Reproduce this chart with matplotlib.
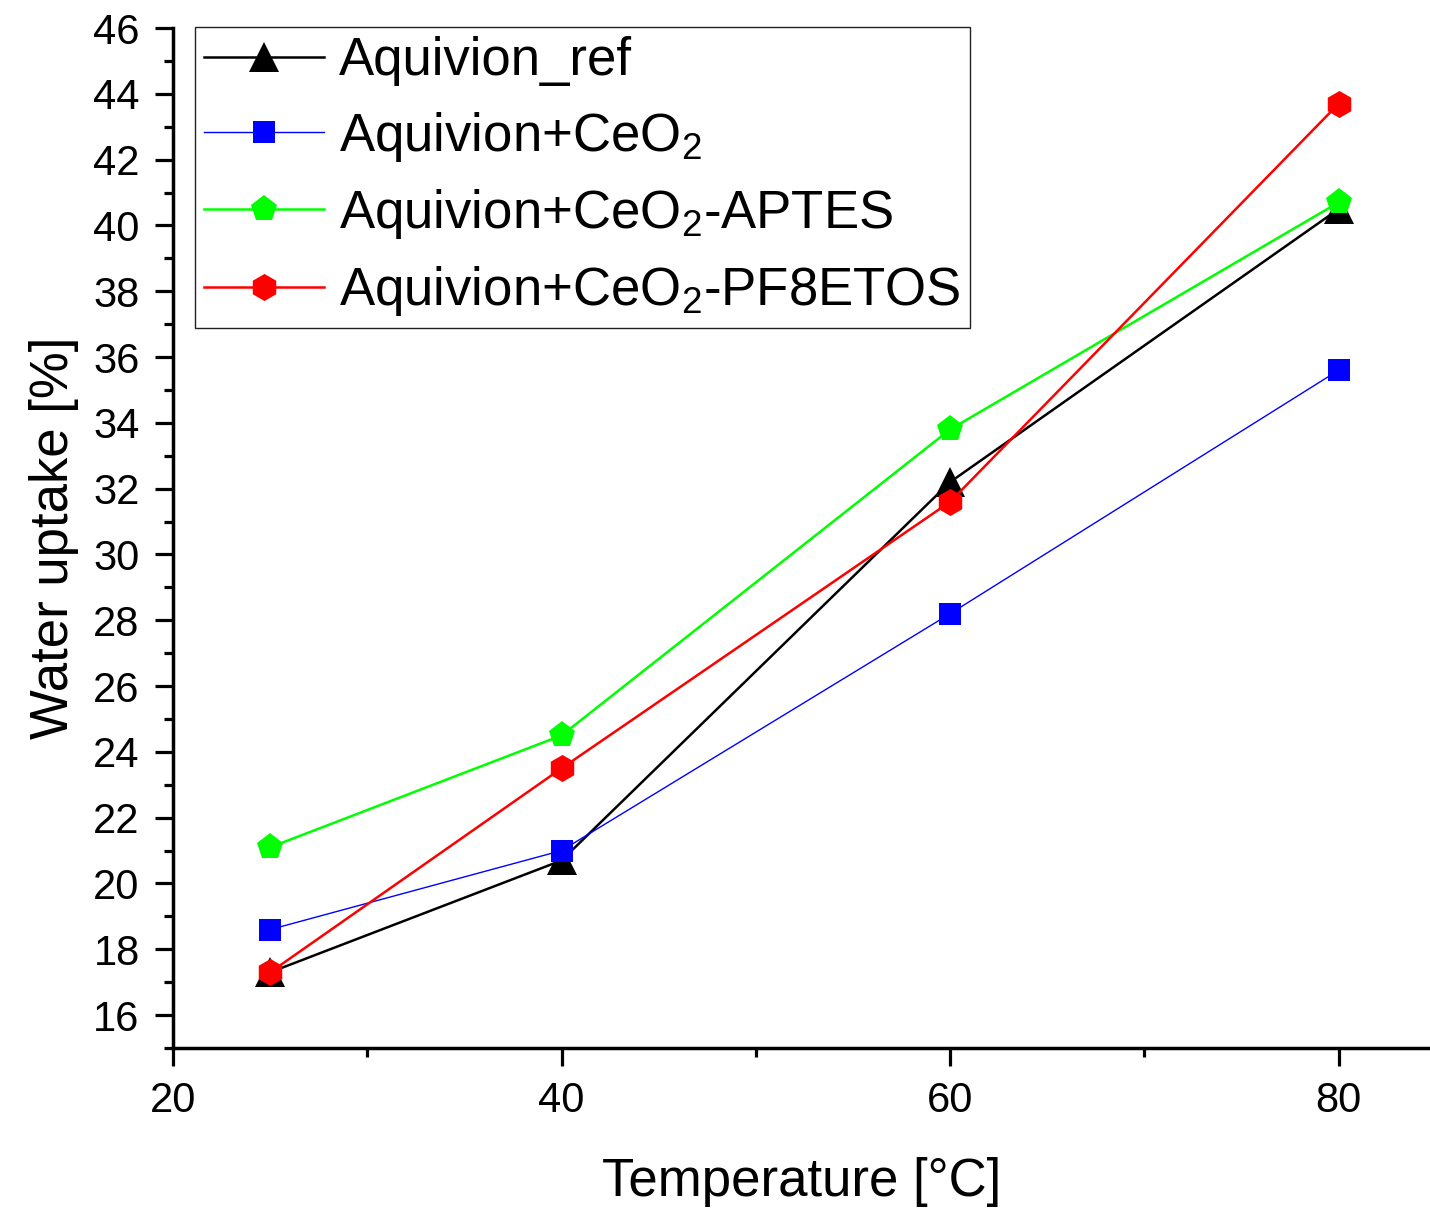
import matplotlib
matplotlib.use("Agg")
import matplotlib.pyplot as plt
from matplotlib.ticker import MultipleLocator

plt.rcParams['font.family'] = ['Liberation Sans', 'DejaVu Sans']
plt.rcParams['mathtext.fontset'] = 'custom'
plt.rcParams['mathtext.rm'] = 'Liberation Sans'
plt.rcParams['mathtext.it'] = 'Liberation Sans'
plt.rcParams['mathtext.bf'] = 'Liberation Sans:bold'

temperature = [25, 40, 60, 80]
ref_vals = [17.3, 20.7, 32.2, 40.5]
ceo2_vals = [18.6, 21.0, 28.2, 35.6]
aptes_vals = [21.1, 24.5, 33.8, 40.7]
pf8_vals = [17.3, 23.5, 31.6, 43.7]

labels = ['Aquivion_ref', 'Aquivion+CeO$_2$', 'Aquivion+CeO$_2$-APTES',
          'Aquivion+CeO$_2$-PF8ETOS']
colors = ['#000000', '#0000ff', '#00ff00', '#ff0000']
markers = ['^', 's', 'p', 'h']
msizes = [21, 16.5, 20, 19.5]
lwidths = [1.8, 1.0, 1.8, 1.8]
series = [ref_vals, ceo2_vals, aptes_vals, pf8_vals]

fig = plt.figure(figsize=(14.3, 12.12), dpi=100)
ax = fig.add_axes([173/1430, 1 - 1048/1212, 1 - 173/1430, (1048 - 28)/1212])

for vals, lab, c, m, ms, lw in zip(series, labels, colors, markers, msizes, lwidths):
    ax.plot(temperature, vals, color=c, marker=m, markersize=ms, linewidth=lw,
            markeredgewidth=0, label=lab, clip_on=False)

ax.set_xlim(20, 84.7)
ax.set_ylim(15, 46)
ax.xaxis.set_major_locator(MultipleLocator(20))
ax.xaxis.set_minor_locator(MultipleLocator(10))
ax.yaxis.set_major_locator(MultipleLocator(2))
ax.yaxis.set_minor_locator(MultipleLocator(1))

ax.spines['top'].set_visible(False)
ax.spines['right'].set_visible(False)
for s in ['left', 'bottom']:
    ax.spines[s].set_linewidth(2.5)

ax.tick_params(which='major', direction='out', length=13, width=2.3,
               labelsize=30, pad=11)
ax.tick_params(which='minor', direction='out', length=6.5, width=2.3)

ax.set_xlabel('Temperature [°C]', fontsize=38, labelpad=26)
ax.set_ylabel('Water uptake [%]', fontsize=38, labelpad=10)

leg = ax.legend(loc='upper left', bbox_to_anchor=(195/1430, 1 - 27/1212),
                bbox_transform=fig.transFigure, borderaxespad=0,
                fontsize=38, handlelength=2.27, handletextpad=0.27,
                labelspacing=0.44, borderpad=0.18, fancybox=False,
                framealpha=1, edgecolor='#222222')
leg.get_frame().set_linewidth(1.0)

fig.savefig('out.png', dpi=100)
